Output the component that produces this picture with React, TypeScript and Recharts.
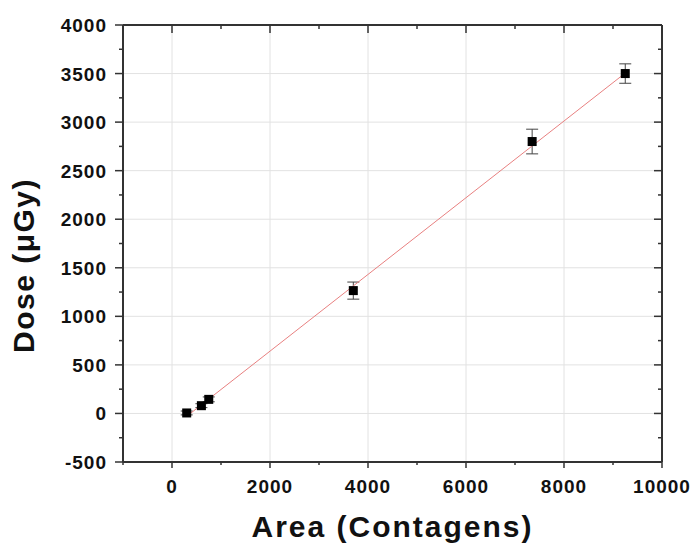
import { ScatterChart, Scatter, XAxis, YAxis, CartesianGrid, ErrorBar } from 'recharts';

// measured points
const areas = [300, 600, 750, 3700, 7350, 9250];
const doses = [5, 80, 145, 1265, 2800, 3500];
const doseErrors = [20, 20, 25, 88, 127, 100];

// linear fit end points
const fitAreas = [300, 9250];
const fitDoses = [-30, 3505];

const xMajor = [0, 2000, 4000, 6000, 8000, 10000];
const xMinor = [-1000, 1000, 3000, 5000, 7000, 9000];
const yMajor = [-500, 0, 500, 1000, 1500, 2000, 2500, 3000, 3500, 4000];
const yMinor = [-250, 250, 750, 1250, 1750, 2250, 2750, 3250, 3750];

const xTicks = [...xMajor, ...xMinor].sort((a, b) => a - b);
const yTicks = [...yMajor, ...yMinor].sort((a, b) => a - b);

const points = areas.map((a, i) => ({ x: a, y: doses[i], err: doseErrors[i] }));
const fit = fitAreas.map((a, i) => ({ x: a, y: fitDoses[i] }));

const FONT = '"Liberation Sans", Arial, sans-serif';
const AXIS = '#333';

function SquareDot(props: any) {
    const { cx, cy } = props;
    return <rect x={cx - 4.5} y={cy - 4.5} width={9} height={9} fill="#000" />;
}

function BottomTick({ x, y, payload }: any) {
    const major = xMajor.includes(payload.value);
    return (
        <g>
            <line x1={x} x2={x} y1={y} y2={y + (major ? 6 : 3)} stroke={AXIS} strokeWidth={1.5} />
            {major && (
                <text x={x} y={y + 31} textAnchor="middle" fontFamily={FONT} fontWeight="bold" fontSize={19} letterSpacing={1} fill="#111">
                    {payload.value}
                </text>
            )}
        </g>
    );
}

function TopTick({ x, y, payload }: any) {
    const major = xMajor.includes(payload.value);
    return <line x1={x} x2={x} y1={y} y2={y + (major ? 8 : 4)} stroke={AXIS} strokeWidth={1.5} />;
}

function LeftTick({ x, y, payload }: any) {
    const major = yMajor.includes(payload.value);
    return (
        <g>
            <line x1={x - (major ? 8 : 4)} x2={x} y1={y} y2={y} stroke={AXIS} strokeWidth={1.5} />
            {major && (
                <text x={x - 16} y={y + 7} textAnchor="end" fontFamily={FONT} fontWeight="bold" fontSize={19} letterSpacing={1} fill="#111">
                    {payload.value}
                </text>
            )}
        </g>
    );
}

function RightTick({ x, y, payload }: any) {
    const major = yMajor.includes(payload.value);
    return <line x1={x - (major ? 8 : 4)} x2={x} y1={y} y2={y} stroke={AXIS} strokeWidth={1.5} />;
}

function XTitle({ viewBox }: any) {
    return (
        <text x={viewBox.x + viewBox.width / 2} y={viewBox.y + 75} textAnchor="middle" fontFamily={FONT} fontWeight="bold" fontSize={30} letterSpacing={2} fill="#111">
            Area (Contagens)
        </text>
    );
}

function YTitle({ viewBox }: any) {
    const cx = viewBox.x + 34;
    const cy = viewBox.y + viewBox.height / 2 + 22;
    return (
        <text x={cx} y={cy} transform={`rotate(-90 ${cx} ${cy})`} textAnchor="middle" fontFamily={FONT} fontWeight="bold" fontSize={30} letterSpacing={1.5} fill="#111">
            Dose (μGy)
        </text>
    );
}

export default function App() {
    return (
        <div style={{ position: 'absolute', left: 0, top: 0, background: '#fff' }}>
            <ScatterChart width={693} height={547} margin={{ top: 24, right: 30, left: 0, bottom: 0 }}>
                <XAxis
                    xAxisId="bottom" type="number" dataKey="x" domain={[-1000, 10000]} ticks={xTicks}
                    allowDataOverflow interval={0} height={85} tickSize={0} tickMargin={0} tickLine={false}
                    axisLine={{ stroke: AXIS, strokeWidth: 2 }} tick={<BottomTick />} label={{ content: <XTitle /> }}
                />
                <XAxis
                    xAxisId="top" orientation="top" type="number" dataKey="x" domain={[-1000, 10000]} ticks={xTicks}
                    allowDataOverflow interval={0} height={1} tickSize={0} tickMargin={0} tickLine={false}
                    axisLine={{ stroke: AXIS, strokeWidth: 2 }} tick={<TopTick />}
                />
                <YAxis
                    yAxisId="left" type="number" dataKey="y" domain={[-500, 4000]} ticks={yTicks}
                    allowDataOverflow interval={0} width={123} tickSize={0} tickMargin={0} tickLine={false}
                    axisLine={{ stroke: AXIS, strokeWidth: 2 }} tick={<LeftTick />} label={{ content: <YTitle /> }}
                />
                <YAxis
                    yAxisId="right" orientation="right" type="number" dataKey="y" domain={[-500, 4000]} ticks={yTicks}
                    allowDataOverflow interval={0} width={1} tickSize={0} tickMargin={0} tickLine={false}
                    axisLine={{ stroke: AXIS, strokeWidth: 2 }} tick={<RightTick />}
                />
                {/* hidden axes holding only the major ticks, used by the grid */}
                <XAxis xAxisId="gx" type="number" dataKey="x" domain={[-1000, 10000]} ticks={xMajor} height={0} hide allowDataOverflow />
                <YAxis yAxisId="gy" type="number" dataKey="y" domain={[-500, 4000]} ticks={yMajor} width={0} hide allowDataOverflow />
                <CartesianGrid xAxisId="gx" yAxisId="gy" stroke="#e2e2e2" strokeWidth={1} />
                <Scatter
                    xAxisId="bottom" yAxisId="left" data={fit} line={{ stroke: '#e88080', strokeWidth: 1 }}
                    shape={() => <g />} isAnimationActive={false}
                />
                <Scatter xAxisId="bottom" yAxisId="left" data={points} shape={<SquareDot />} isAnimationActive={false}>
                    <ErrorBar dataKey="err" direction="y" width={6} stroke="#444" strokeWidth={1} isAnimationActive={false} />
                </Scatter>
            </ScatterChart>
        </div>
    );
}
